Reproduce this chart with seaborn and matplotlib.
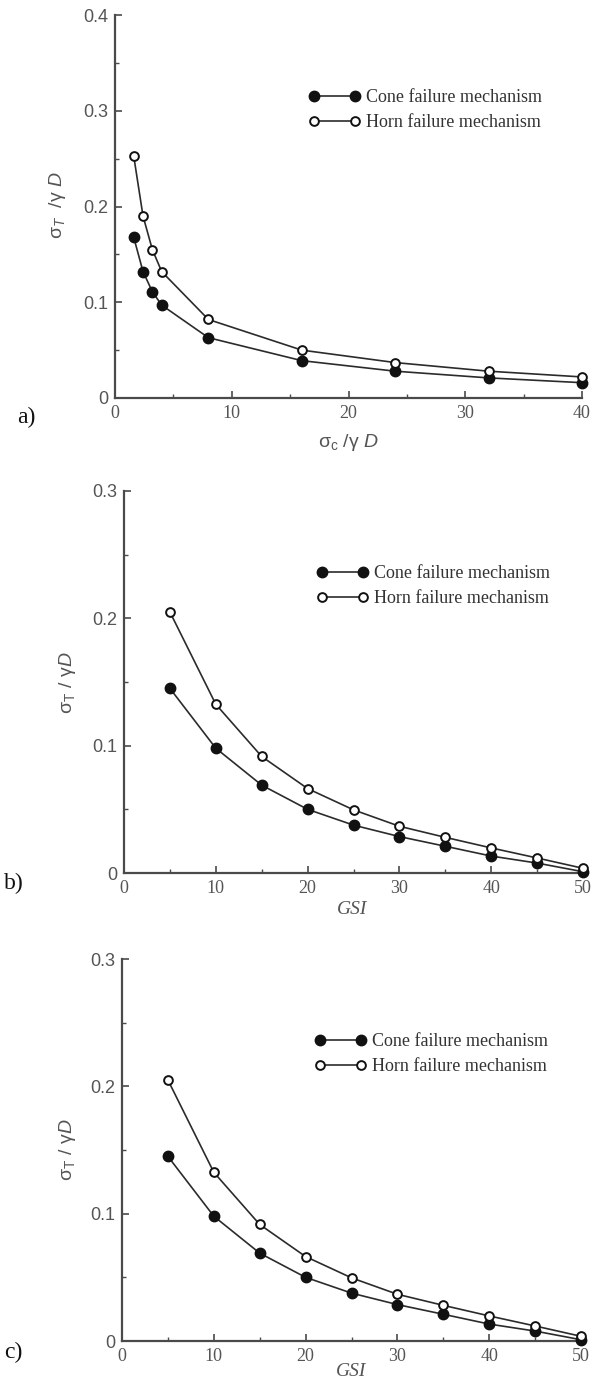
import matplotlib
matplotlib.use("Agg")
import matplotlib.pyplot as plt
from matplotlib.ticker import MultipleLocator, FixedLocator, FixedFormatter
import seaborn as sns
import pandas as pd

# ---------------- data ----------------
a_x = [1.6, 2.4, 3.2, 4, 8, 16, 24, 32, 40]
a_cone = [0.168, 0.132, 0.111, 0.097, 0.063, 0.039, 0.028, 0.021, 0.016]
a_horn = [0.253, 0.190, 0.155, 0.132, 0.082, 0.050, 0.037, 0.028, 0.022]

gsi_x = [5, 10, 15, 20, 25, 30, 35, 40, 45, 50]
gsi_cone = [0.145, 0.098, 0.069, 0.050, 0.0376, 0.0286, 0.021, 0.0133, 0.0078, 0.001]
gsi_horn = [0.205, 0.1325, 0.0915, 0.0663, 0.0496, 0.0367, 0.028, 0.0197, 0.0118, 0.0037]

series_names = ["Cone failure mechanism", "Horn failure mechanism"]

a_xticks = [0, 10, 20, 30, 40]
a_xticklabels = ["0", "10", "20", "30", "40"]
a_yticks = [0, 0.1, 0.2, 0.3, 0.4]
a_yticklabels = ["0", "0.1", "0.2", "0.3", "0.4"]

g_xticks = [0, 10, 20, 30, 40, 50]
g_xticklabels = ["0", "10", "20", "30", "40", "50"]
g_yticks = [0, 0.1, 0.2, 0.3]
g_yticklabels = ["0", "0.1", "0.2", "0.3"]

panel_labels = ["a)", "b)", "c)"]

# ---------------- style ----------------
sns.set_style("ticks")
plt.rcParams["font.family"] = ["Liberation Sans", "DejaVu Sans"]
plt.rcParams["mathtext.fontset"] = "custom"
plt.rcParams["mathtext.rm"] = "Liberation Sans"
plt.rcParams["mathtext.it"] = "Liberation Sans:italic"
plt.rcParams["mathtext.bf"] = "Liberation Sans:bold"

W, H = 593, 1394
DPI = 100
fig = plt.figure(figsize=(W / DPI, H / DPI), dpi=DPI)
fig.patch.set_facecolor("white")

AX_COL = "#4a4a4a"
TXT_COL = "#555555"
LINE_COL = "#2b2b2b"


def fx(px):
    return px / W


def fy(py):
    return 1 - py / H


def add_axes(left, right, top, bottom):
    return fig.add_axes([fx(left), fy(bottom), fx(right) - fx(left), (bottom - top) / H])


def draw_panel(ax, x, cone, horn, xlim, ylim, xticks, xtl, yticks, ytl, xminor, yminor,
               leg_pos):
    df_c = pd.DataFrame({"x": x, "y": cone})
    df_h = pd.DataFrame({"x": x, "y": horn})
    sns.lineplot(data=df_c, x="x", y="y", ax=ax, color=LINE_COL, lw=1.2,
                 marker="o", markersize=7.5, markerfacecolor="#111111",
                 markeredgecolor="#111111", markeredgewidth=1.0,
                 label=series_names[0], clip_on=False, zorder=3)
    sns.lineplot(data=df_h, x="x", y="y", ax=ax, color=LINE_COL, lw=1.2,
                 marker="o", markersize=6.3, markerfacecolor="white",
                 markeredgecolor="#111111", markeredgewidth=1.4,
                 label=series_names[1], clip_on=False, zorder=4)
    ax.set_xlim(*xlim)
    ax.set_ylim(*ylim)
    ax.xaxis.set_major_locator(FixedLocator(xticks))
    ax.xaxis.set_major_formatter(FixedFormatter(xtl))
    ax.yaxis.set_major_locator(FixedLocator(yticks))
    ax.yaxis.set_major_formatter(FixedFormatter(ytl))
    ax.xaxis.set_minor_locator(MultipleLocator(xminor))
    ax.yaxis.set_minor_locator(MultipleLocator(yminor))
    for s in ["top", "right"]:
        ax.spines[s].set_visible(False)
    for s in ["left", "bottom"]:
        ax.spines[s].set_color(AX_COL)
        ax.spines[s].set_linewidth(1.6)
    ax.tick_params(which="major", direction="in", length=5, width=1.2, color=AX_COL,
                   labelcolor=TXT_COL, pad=5)
    ax.tick_params(which="minor", direction="in", length=3, width=1.0, color=AX_COL)
    for lab in ax.get_yticklabels():
        lab.set_fontfamily("Liberation Sans")
        lab.set_fontsize(13)
    for lab in ax.get_xticklabels():
        lab.set_fontfamily("Liberation Serif")
        lab.set_fontsize(13)
    ax.set_xlabel("")
    ax.set_ylabel("")
    ax.set_facecolor("white")
    leg = ax.legend(loc="upper left", bbox_to_anchor=(fx(leg_pos[0]), fy(leg_pos[1])),
                    bbox_transform=fig.transFigure, frameon=False, borderpad=0,
                    borderaxespad=0, numpoints=2, handlelength=2.85, handletextpad=0.35,
                    labelspacing=0.45, prop={"family": "Liberation Serif", "size": 13})
    for t in leg.get_texts():
        t.set_color("#333333")


# Panel a
ax_a = add_axes(115, 582, 15, 398)
draw_panel(ax_a, a_x, a_cone, a_horn, (0, 40), (0, 0.4), a_xticks, a_xticklabels,
           a_yticks, a_yticklabels, 5, 0.05, (308.5, 89))

# Panel b
ax_b = add_axes(124, 583, 491, 873)
draw_panel(ax_b, gsi_x, gsi_cone, gsi_horn, (0, 50), (0, 0.3), g_xticks, g_xticklabels,
           g_yticks, g_yticklabels, 5, 0.05, (316.5, 565))

# Panel c
ax_c = add_axes(122, 581, 959, 1341)
draw_panel(ax_c, gsi_x, gsi_cone, gsi_horn, (0, 50), (0, 0.3), g_xticks, g_xticklabels,
           g_yticks, g_yticklabels, 5, 0.05, (314.5, 1033))

# Axis labels
lab_kw = dict(color=TXT_COL, fontsize=14, ha="center", va="center")
fig.text(fx(348), fy(442), r"$\mathrm{σ}_{\mathrm{c}}\ /\mathrm{γ}\ \mathit{D}$", **lab_kw)
fig.text(fx(57), fy(205), r"$\mathrm{σ}_{\mathit{T}}\ \ /\mathrm{γ}\ \mathit{D}$",
         rotation=90, **lab_kw)
for ycen, xcen in [(683, 68), (1150, 68)]:
    fig.text(fx(xcen), fy(ycen), r"$\mathrm{σ}_{\mathrm{T}}\ /\ \mathrm{γ}\mathit{D}$",
             rotation=90, **lab_kw)
for ycen, xcen in [(909, 352), (1371, 351)]:
    fig.text(fx(xcen), fy(ycen), "GSI", family="Liberation Serif", style="italic",
             color=TXT_COL, fontsize=14, ha="center", va="center")

# Panel letters
for (xl, yl), lab in zip([(17, 417), (4, 883), (4, 1352)], panel_labels):
    fig.text(fx(xl), fy(yl), lab, family="Liberation Serif", fontsize=17,
             color="#111111", ha="left", va="center")

fig.savefig("out.png", dpi=DPI, facecolor="white")
